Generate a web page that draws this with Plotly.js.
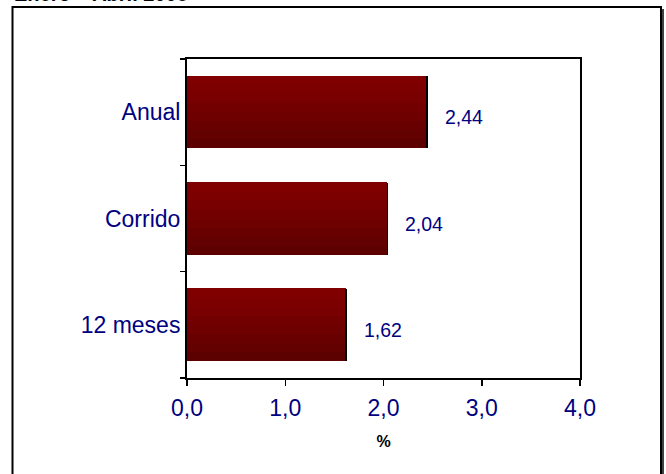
<!DOCTYPE html>
<html>
<head>
<meta charset="utf-8">
<script src="https://cdn.plot.ly/plotly-3.0.1.min.js"></script>
<style>
html,body{margin:0;padding:0;background:#fff;}
#chart{width:666px;height:474px;}
</style>
</head>
<body>
<div id="chart"></div>
<script>
// Data
const categories = ["12 meses", "Corrido", "Anual"];
const values = [1.62, 2.04, 2.44];
const valueLabels = ["1,62", "2,04", "2,44"];
const xTickVals = [0, 1, 2, 3, 4];
const xTickText = ["0,0", "1,0", "2,0", "3,0", "4,0"];
const titleText = "Enero \u2013 Abril 2008";
const xTitle = "%";

// Styling for gradient bars (strips from bottom dark to top bright)
const FONT = "Liberation Sans, Arial, sans-serif";
const barWidth = 0.68;
const stripColors = ["#5c0000", "#630000", "#690000", "#6e0000", "#730000", "#780000", "#7c0000", "#800000"];
const nStrips = stripColors.length;
const stripW = barWidth / nStrips;

const traces = stripColors.map((c, k) => ({
  type: "bar",
  orientation: "h",
  x: values,
  y: categories,
  width: stripW + 0.004,
  offset: -barWidth / 2 + k * stripW,
  marker: {color: c, line: {width: 0}},
  hoverinfo: "skip",
  showlegend: false
}));

// black end line at bar tips via zero-size error bar caps
traces.push({
  type: "bar",
  orientation: "h",
  x: values,
  y: categories,
  width: barWidth,
  marker: {color: "rgba(0,0,0,0)", line: {width: 0}},
  error_x: {type: "data", array: values.map(() => 0), width: 36, thickness: 1.6, color: "#000"},
  hoverinfo: "skip",
  showlegend: false
});

// plot area in px
const L = 187, R = 580, T = 59, B = 378, W = 666, H = 474;
const px = x => (x - L) / (R - L);
const py = y => (B - y) / (B - T);

const annotations = values.map((v, i) => ({
  x: v, y: categories[i], xref: "x", yref: "y",
  text: valueLabels[i], showarrow: false,
  xanchor: "left", yanchor: "middle", xshift: 16, yshift: -5,
  font: {family: FONT, size: 19.5, color: "#000080"}
}));
annotations.push({
  x: px(12), y: py(7), xref: "paper", yref: "paper",
  text: "<b>" + titleText + "</b>", showarrow: false,
  xanchor: "left", yanchor: "bottom",
  font: {family: FONT, size: 20, color: "#000"}
});

const layout = {
  width: W, height: H,
  margin: {l: L, r: W - R, t: T, b: H - B, pad: 0},
  paper_bgcolor: "#fff",
  plot_bgcolor: "#fff",
  barmode: "overlay",
  bargap: 0,
  showlegend: false,
  separators: ",.",
  xaxis: {
    range: [0, 4],
    tickvals: xTickVals,
    ticktext: xTickText,
    ticks: "outside", ticklen: 6, tickwidth: 1.5, tickcolor: "#000",
    showline: true, linecolor: "#000", linewidth: 2, mirror: true,
    showgrid: false, zeroline: false,
    ticklabelstandoff: 2,
    tickfont: {family: FONT, size: 23, color: "#000080"},
    title: {text: "<b>" + xTitle + "</b>", standoff: 16,
      font: {family: FONT, size: 16, color: "#000"}},
    fixedrange: true
  },
  yaxis: {
    type: "category",
    categoryorder: "array", categoryarray: categories,
    range: [-0.5, 2.5],
    ticks: "outside", ticklen: 5, tickwidth: 1.5, tickcolor: "#000",
    tickson: "boundaries",
    showline: true, linecolor: "#000", linewidth: 2, mirror: true,
    showgrid: false, zeroline: false,
    tickfont: {family: FONT, size: 23, color: "#000080"},
    fixedrange: true
  },
  annotations: annotations,
  shapes: [
    {type: "rect", xref: "paper", yref: "paper",
      x0: px(12.5), x1: px(661), y0: py(480), y1: py(7),
      line: {color: "#000", width: 2}, fillcolor: "rgba(0,0,0,0)", layer: "below"},
    {type: "line", xref: "paper", yref: "paper",
      x0: px(663), x1: px(663), y0: py(480), y1: py(9),
      line: {color: "#000", width: 1.5}}
  ]
};

Plotly.newPlot("chart", traces, layout, {displayModeBar: false, staticPlot: true});
</script>
</body>
</html>
